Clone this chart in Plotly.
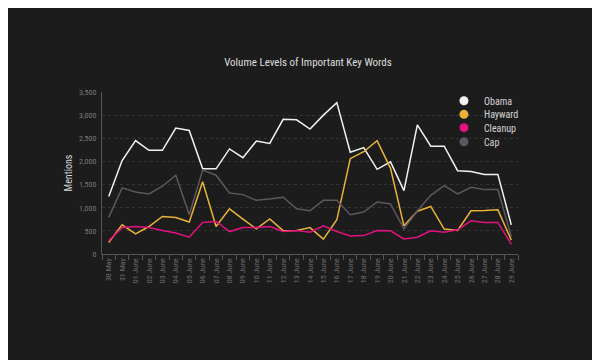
import plotly.graph_objects as go

dates = ["30 May", "31 May"] + ["%02d June" % d for d in range(1, 30)]

obama = [1240, 2020, 2450, 2240, 2240, 2720, 2670, 1840, 1840, 2270, 2080, 2440, 2390, 2910, 2900,
         2700, 3000, 3270, 2200, 2300, 1830, 1990, 1370, 2790, 2330, 2330, 1800, 1780, 1720, 1720, 630]
hayward = [250, 630, 435, 594, 810, 790, 690, 1560, 594, 975, 754, 543, 758, 505, 510,
           570, 320, 739, 2060, 2210, 2450, 1850, 609, 925, 1028, 540, 510, 935, 942, 957, 300]
cleanup = [283, 572, 594, 572, 507, 455, 363, 681, 703, 485, 572, 572, 594, 485, 507,
           472, 609, 485, 391, 398, 507, 500, 326, 363, 500, 472, 522, 717, 681, 681, 210]
cap = [790, 1428, 1341, 1297, 1464, 1703, 848, 1812, 1703, 1319, 1283, 1159, 1189, 1225, 978,
       935, 1159, 1159, 848, 906, 1124, 1080, 543, 935, 1268, 1478, 1297, 1442, 1391, 1391, 376]

series = [("Obama", obama, "#f2f2f2"),
          ("Hayward", hayward, "#e9b338"),
          ("Cleanup", cleanup, "#e3117f"),
          ("Cap", cap, "#5e5661")]

FONT = "Liberation Sans Narrow, Roboto Condensed, Arial Narrow, Roboto, sans-serif"

fig = go.Figure()
for name, vals, col in series:
    fig.add_trace(go.Scatter(x=dates, y=vals, mode="lines", name=name,
                             line=dict(color=col, width=1.5), showlegend=False))

legend_keys = ["legend", "legend2", "legend3", "legend4"]
legend_y = [0.946, 0.862, 0.780, 0.693]
for (name, vals, col), lk in zip(series, legend_keys):
    fig.add_trace(go.Scatter(x=[None], y=[None], mode="markers", name=name, legend=lk,
                             marker=dict(color=col, size=9, symbol="circle"), showlegend=True))

legend_common = dict(x=0.822, xanchor="left", yanchor="middle", bgcolor="rgba(0,0,0,0)",
                     font=dict(family=FONT, size=10, color="#d4d4d4"), itemwidth=30)

fig.update_layout(
    width=600, height=360,
    paper_bgcolor="#1c1c1c", plot_bgcolor="#1c1c1c",
    margin=dict(l=94, r=90, t=84, b=114),
    title=dict(text="Volume Levels of Important Key Words", x=0.5, xanchor="center",
               y=0.85, yanchor="middle",
               font=dict(family=FONT, size=11, color="#dddddd")),
    font=dict(family=FONT, color="#8a8a8a"),
    legend=dict(y=legend_y[0], **legend_common),
    legend2=dict(y=legend_y[1], **legend_common),
    legend3=dict(y=legend_y[2], **legend_common),
    legend4=dict(y=legend_y[3], **legend_common),
    xaxis=dict(type="category", tickangle=-90, tickfont=dict(size=8, color="#6e6e6e"),
               showgrid=False, showline=True, linecolor="#555555", linewidth=1,
               ticks="outside", tickson="boundaries", ticklen=5, tickcolor="#555555",
               range=[-0.5, 30.5], zeroline=False),
    yaxis=dict(range=[0, 3500], dtick=500, tickformat=",", tickfont=dict(size=8, color="#7a7a7a"),
               showgrid=True, gridcolor="#333333", griddash="dot", gridwidth=1,
               showline=True, linecolor="#555555", linewidth=1, zeroline=False,
               title=dict(text="Mentions", font=dict(size=10, color="#d8d8d8"), standoff=4),
               ticks="", ticklabelstandoff=3),
)

fig.write_html("out.html")
